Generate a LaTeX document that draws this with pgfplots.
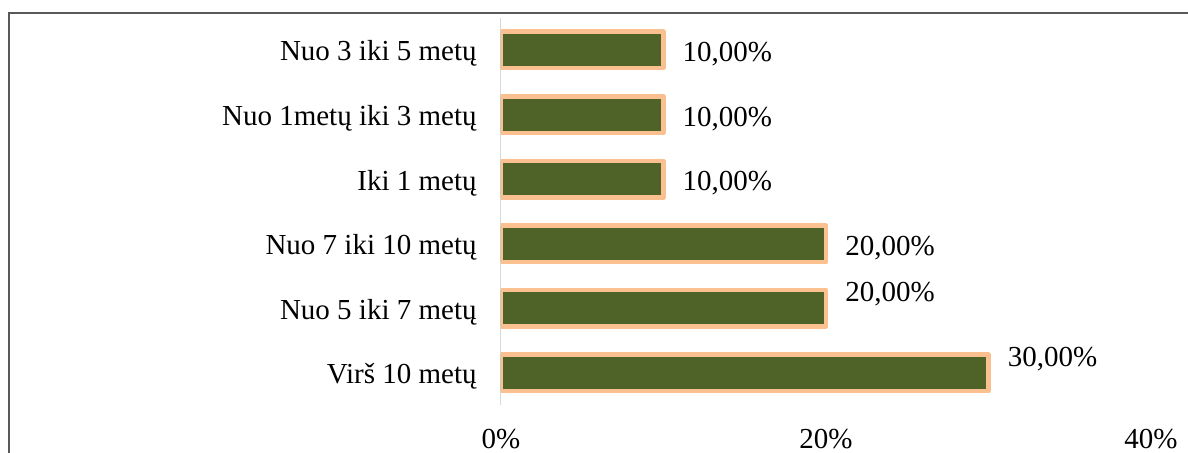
\documentclass[border=0pt]{standalone}
\usepackage{pgfplots}
\pgfplotsset{compat=1.18}
\usepackage{fontspec}
\setmainfont{Liberation Serif}

\definecolor{barfill}{HTML}{4F6228}
\definecolor{barline}{HTML}{FAC090}
\definecolor{framegray}{HTML}{595959}
\definecolor{zeroline}{HTML}{D9D9D9}

\begin{document}
\fontsize{14.5}{17}\selectfont
\begin{tikzpicture}
% page = 1188x453 px at 0.5pt per px, axis origin at px (501,405)
\useasboundingbox (-250.5pt,-23.85pt) rectangle (343.5pt,202.65pt);
\clip (-250.5pt,-23.85pt) rectangle (343.5pt,202.65pt);
\draw[framegray, line width=1pt] (-246pt,-40pt) -- (-246pt,196pt) -- (360pt,196pt);
\begin{axis}[
    at={(0pt,0pt)}, anchor=south west, scale only axis,
    width=325pt, height=193.8pt,
    xbar, bar width=18.25pt,
    xmin=0, xmax=40, ymin=-0.5, ymax=5.5,
    xtick={0,20,40}, xticklabels={0\%,20\%,40\%},
    ytick={0,...,5},
    yticklabels={Virš 10 metų, Nuo 5 iki 7 metų, Nuo 7 iki 10 metų, Iki 1 metų, Nuo 1metų iki 3 metų, Nuo 3 iki 5 metų},
    major tick length=0pt,
    axis lines*=left,
    x axis line style={draw=none},
    y axis line style={zeroline, line width=0.5pt},
    xticklabel style={anchor=base, inner sep=0pt, yshift=-21.85pt},
    yticklabel style={anchor=base east, inner sep=0pt, xshift=-12pt, yshift=-5.5pt},
    /pgf/number format/assume math mode=true,
    point meta=x,
    nodes near coords={\pgfmathprintnumber[fixed,fixed zerofill,precision=2,use comma,assume math mode=true]{\pgfplotspointmeta}\%},
    visualization depends on={\thisrow{dy}\as\dy},
    every node near coord/.append style={anchor=base west, inner sep=0pt, xshift=8.5pt, yshift=\dy pt-5.75pt, text=black},
]
\addplot[fill=barfill, draw=barline, line width=2.25pt, line join=round] table {
x  y dy
30 0 8.75
20 1 9
20 2 0
10 3 0
10 4 0
10 5 0
};
\end{axis}
\end{tikzpicture}
\end{document}
